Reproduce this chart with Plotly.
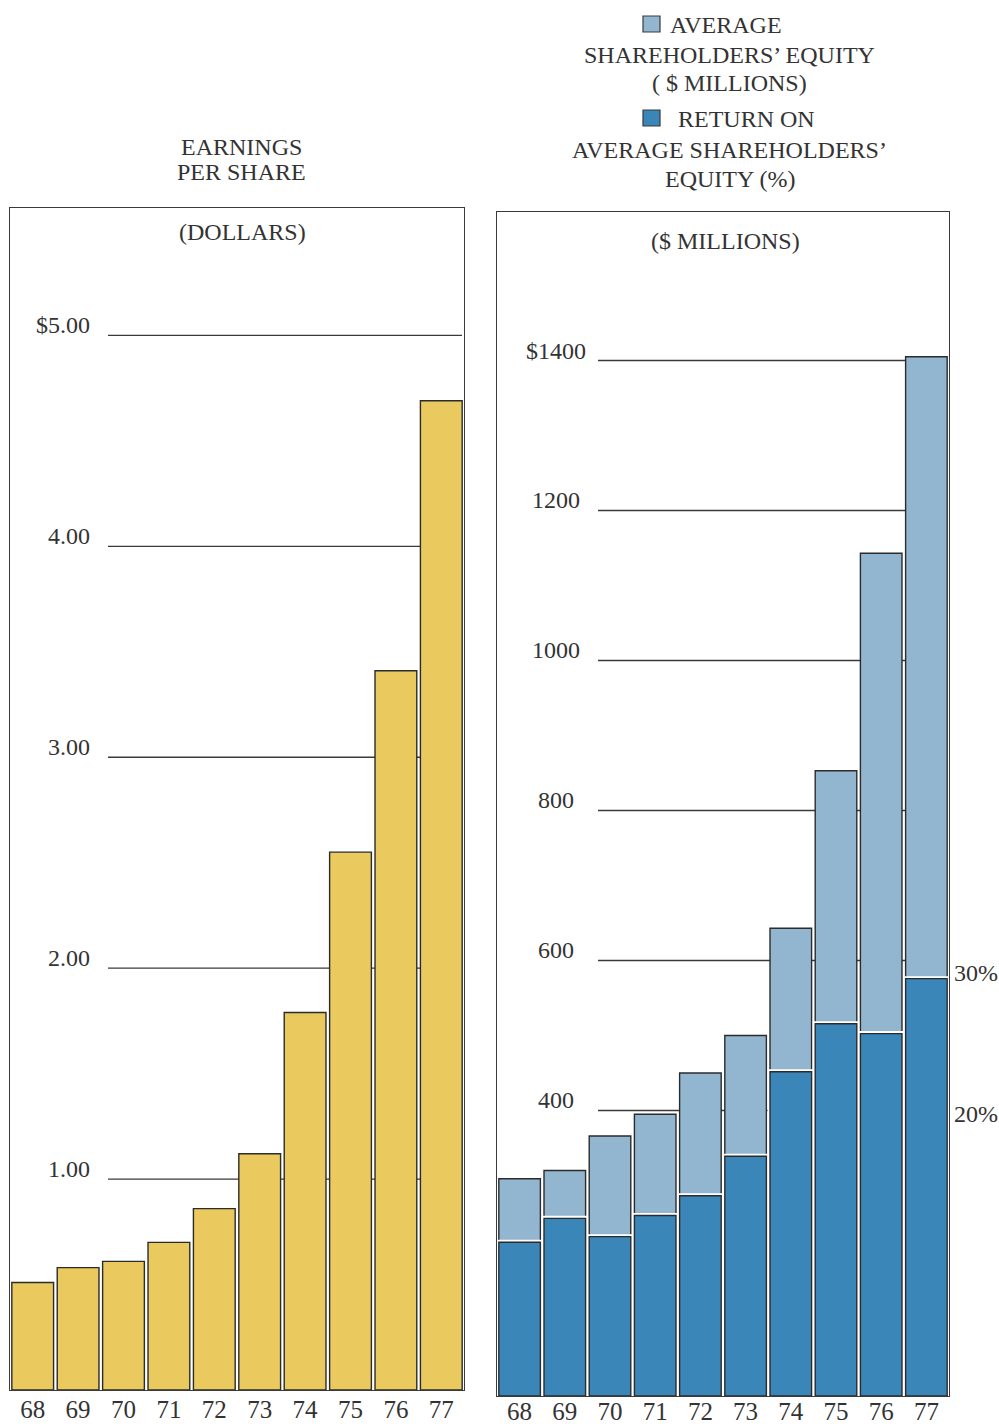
import plotly.graph_objects as go

# ---- data -------------------------------------------------------------
years = ["68", "69", "70", "71", "72", "73", "74", "75", "76", "77"]
eps = [0.51, 0.58, 0.61, 0.70, 0.86, 1.12, 1.79, 2.55, 3.41, 4.69]          # dollars per share
equity = [309, 320, 366, 395, 450, 500, 643, 853, 1143, 1405]                # $ millions
roe = [10.9, 12.6, 11.3, 12.8, 14.2, 17.0, 23.0, 26.4, 25.7, 29.6]           # percent

eps_ticks = [1, 2, 3, 4, 5]
eps_tick_text = ["1.00", "2.00", "3.00", "4.00", "$5.00"]
eq_ticks = [400, 600, 800, 1000, 1200, 1400]
eq_tick_text = ["400", "600", "800", "1000", "1200", "$1400"]
roe_ticks = [20, 30]
roe_tick_text = ["20%", "30%"]

# ---- styling ----------------------------------------------------------
W, H = 999, 1426
FONT = "Liberation Serif, Times New Roman, serif"
INK = "#333333"
YELLOW = "#EACA5E"
LIGHT_BLUE = "#93B6D0"
DARK_BLUE = "#3A86B9"
EDGE = "#2b2b2b"


def px(x):
    return x / W


def py(y):
    return 1 - y / H


fig = go.Figure()

# Earnings per share
fig.add_trace(go.Bar(
    x=years, y=eps, xaxis="x", yaxis="y",
    marker=dict(color=YELLOW, line=dict(color=EDGE, width=1.4)),
    showlegend=False, hoverinfo="x+y",
))

# Average shareholders' equity
fig.add_trace(go.Bar(
    x=years, y=equity, xaxis="x2", yaxis="y2",
    marker=dict(color=LIGHT_BLUE, line=dict(color=EDGE, width=1.4)),
    showlegend=False, hoverinfo="x+y",
))

# Return on equity: white halo first, then the outlined bar on top
fig.add_trace(go.Bar(
    x=years, y=roe, xaxis="x2", yaxis="y3",
    marker=dict(color=DARK_BLUE, line=dict(color="white", width=5)),
    showlegend=False, hoverinfo="skip",
))
fig.add_trace(go.Bar(
    x=years, y=roe, xaxis="x2", yaxis="y3",
    marker=dict(color=DARK_BLUE, line=dict(color=EDGE, width=1.4)),
    showlegend=False, hoverinfo="x+y",
))

axis_common = dict(showline=True, mirror=True, linecolor="#3a3a3a", linewidth=1.3,
                   showgrid=False, zeroline=False, automargin=False)

fig.update_layout(
    width=W, height=H,
    margin=dict(l=0, r=0, t=0, b=0, autoexpand=False),
    paper_bgcolor="white", plot_bgcolor="white",
    barmode="overlay", bargap=0.08,
    font=dict(family=FONT, color=INK, size=24),
    xaxis=dict(domain=[px(10), px(464)], anchor="y", type="category",
               range=[-0.5, 9.5], ticks="", tickfont=dict(size=25),
               ticklabelstandoff=-3, **axis_common),
    yaxis=dict(domain=[py(1390), py(208)], anchor="x", range=[0, 5.604],
               showticklabels=False, ticks="", **axis_common),
    xaxis2=dict(domain=[px(497), px(949)], anchor="y2", type="category",
                range=[-0.5, 9.5], ticks="", tickfont=dict(size=25),
                ticklabelstandoff=-7, **axis_common),
    yaxis2=dict(domain=[py(1396), py(212)], anchor="x2", range=[19.3, 1598],
                showticklabels=False, ticks="", **axis_common),
    yaxis3=dict(overlaying="y2", anchor="x2", side="right", range=[0, 83.97],
                tickvals=roe_ticks, ticktext=roe_tick_text, ticks="",
                tickfont=dict(size=24), showline=False, showgrid=False,
                zeroline=False, automargin=False, ticklabelstandoff=4),
)

shapes = []
annotations = []

# Reference lines and their labels, left panel
for v, t in zip(eps_ticks, eps_tick_text):
    shapes.append(dict(type="line", xref="paper", yref="y", x0=px(108), x1=px(462),
                       y0=v, y1=v, layer="below", line=dict(color="#3a3a3a", width=1.3)))
    annotations.append(dict(text=t, xref="paper", yref="y", x=px(92), y=v,
                            xanchor="right", yanchor="bottom", yshift=-5,
                            showarrow=False, font=dict(size=24)))

# Reference lines and their labels, right panel
for v, t in zip(eq_ticks, eq_tick_text):
    shapes.append(dict(type="line", xref="paper", yref="y2", x0=px(598), x1=px(947),
                       y0=v, y1=v, layer="below", line=dict(color="#3a3a3a", width=1.3)))
    annotations.append(dict(text=t, xref="paper", yref="y2", x=px(556), y=v,
                            xanchor="center", yanchor="bottom", yshift=-5,
                            showarrow=False, font=dict(size=24)))

# Panel headings
def label(text, x, y, anchor="center", size=24):
    annotations.append(dict(text=text, xref="paper", yref="paper", x=px(x), y=py(y),
                            xanchor=anchor, yanchor="middle", showarrow=False,
                            font=dict(size=size)))

label("EARNINGS", 241, 147)
label("PER SHARE", 241, 172)
label("(DOLLARS)", 242, 232)
label("($ MILLIONS)", 725, 241)

# Legend block
label("AVERAGE", 668, 25, anchor="left")
label("SHAREHOLDERS\u2019 EQUITY", 729, 55)
label("( $ MILLIONS)", 729, 83)
label("RETURN ON", 676, 119, anchor="left")
label("AVERAGE SHAREHOLDERS\u2019", 729, 150)
label("EQUITY (%)", 730, 179)

for color, y0, y1 in [(LIGHT_BLUE, 16, 32), (DARK_BLUE, 110, 126)]:
    shapes.append(dict(type="rect", xref="paper", yref="paper",
                       x0=px(643), x1=px(660), y0=py(y1), y1=py(y0),
                       fillcolor=color, line=dict(color="#3a3a3a", width=1.2)))

fig.update_layout(shapes=shapes, annotations=annotations)

fig.write_html("out.html")
